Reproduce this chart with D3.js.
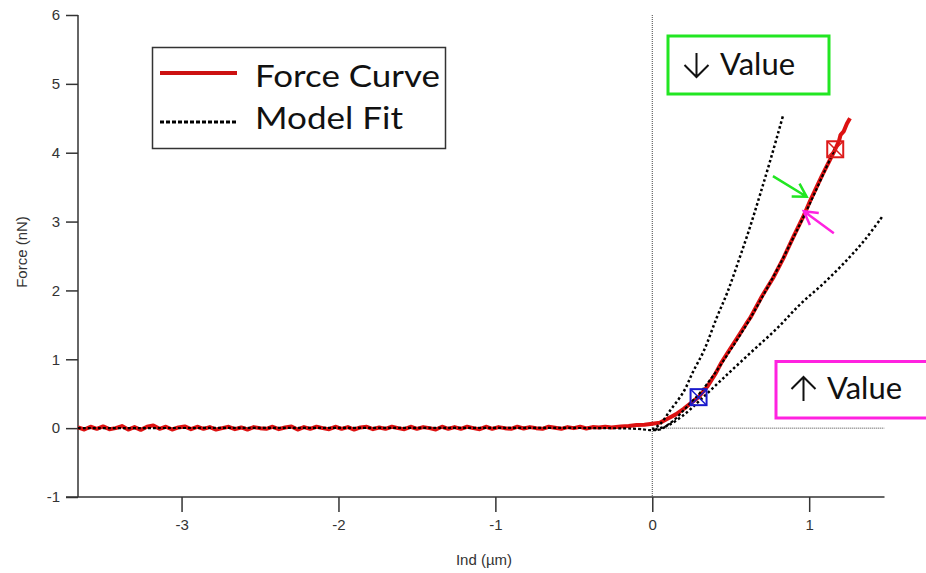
<!DOCTYPE html>
<meta charset="utf-8">
<title>Force Curve</title>
<style>
    body { margin: 0; background: #fff; }
    svg { display: block; }
    .tick text { font-family: 'Liberation Sans', Arial, sans-serif; font-size: 15px; fill: #333; }
    .tick line { stroke: #333; stroke-width: 1.5px; }
    .axis-title { font-family: 'Liberation Sans', Arial, sans-serif; font-size: 15px; fill: #333; }
    .big { font-family: Lato, 'Open Sans', sans-serif; font-size: 31px; fill: #111; }
</style>
<body>
<svg width="926" height="573"></svg>
<script src="https://cdn.jsdelivr.net/npm/d3@7"></script>
<script>

// tick values
var xTicks = [-3, -2, -1, 0, 1];
var yTicks = [-1, 0, 1, 2, 3, 4, 5, 6];

// force curve, flat part: readings every 0.04 um from -3.66 to -0.30
var flatStart = -3.66, flatStep = 0.04;
var flatForce = [
  0.01,-0.02,0.02,-0.01,0.025,-0.015,0.0,0.03,-0.02,0.015,-0.025,0.02,0.04,-0.01,0.02,-0.02,0.01,0.025,-0.015,0.02,
  -0.01,0.015,-0.02,0.0,0.02,-0.015,0.01,-0.02,0.015,0.0,-0.01,0.02,-0.015,0.01,0.025,-0.02,0.015,-0.01,0.02,0.0,
  -0.015,0.02,-0.01,0.015,-0.02,0.01,0.02,-0.015,0.01,-0.01,0.02,0.0,-0.015,0.02,-0.01,0.015,0.0,-0.02,0.02,-0.01,
  0.015,-0.01,0.02,0.0,-0.015,0.02,-0.01,0.015,0.0,-0.01,0.02,-0.005,0.015,0.0,-0.01,0.02,0.005,-0.01,0.015,0.0,
  0.02,-0.005,0.015,0.01,0.02
];

// force curve after contact [ind, force]
var riseCurve = [
  [-0.26,0.01],[-0.2,0.025],[-0.15,0.03],[-0.1,0.045],[-0.05,0.05],[0,0.065],[0.05,0.08],
  [0.1,0.14],[0.15,0.2],[0.2,0.28],[0.25,0.37],[0.295,0.45],[0.35,0.6],[0.4,0.78],
  [0.44,0.95],[0.476,1.08],[0.55,1.34],[0.6,1.52],[0.624,1.6],[0.7,1.92],[0.77,2.18],
  [0.836,2.47],[0.9,2.78],[0.96,3.06],[1.006,3.3],[1.08,3.66],[1.166,4.05],[1.19,4.17],
  [1.2,4.26],[1.22,4.31],[1.24,4.42],[1.26,4.5]
];

// model fits [ind, force]
var fitBest = [
  [-3.66,0],[-0.3,0],[-0.1,-0.01],[0,-0.03],[0.05,-0.02],[0.1,0.05],[0.15,0.14],[0.2,0.26],
  [0.25,0.38],[0.3,0.5],[0.4,0.8],[0.5,1.14],[0.6,1.5],[0.7,1.9],[0.8,2.32],[0.9,2.77],
  [1.0,3.24],[1.1,3.74],[1.166,4.07]
];
var fitStiff = [
  [0,-0.02],[0.05,0.06],[0.115,0.26],[0.2,0.53],[0.26,0.82],[0.33,1.13],[0.41,1.6],
  [0.48,1.98],[0.55,2.43],[0.62,2.9],[0.688,3.4],[0.76,3.95],[0.836,4.56]
];
var fitSoft = [
  [0.02,-0.02],[0.1,0.04],[0.2,0.19],[0.306,0.41],[0.45,0.72],[0.624,1.09],[0.8,1.46],
  [0.943,1.8],[1.1,2.12],[1.248,2.46],[1.36,2.75],[1.465,3.07]
];

// fit range markers [ind, force]
var markers = [
  {x: 0.295, y: 0.45, color: "#1a1acc"},
  {x: 1.166, y: 4.05, color: "#dd1a1a"}
];

// annotation arrows [tail, tip] in data units
var arrows = [
  {from: [0.769, 3.66], to: [0.984, 3.36], color: "#22e622"},
  {from: [1.157, 2.83], to: [0.966, 3.15], color: "#ff22e0"}
];

var svg = d3.select("svg");

var x = d3.scaleLinear().domain([-3.66, 1.48]).range([78, 884.5]);
var y = d3.scaleLinear().domain([-1, 6]).range([497, 15]);

var redCurve = flatForce.map(function(f, i) { return [flatStart + i * flatStep, f]; }).concat(riseCurve);

// axes
var yAxis = svg.append("g")
    .attr("transform", "translate(" + x.range()[0] + ",0)")
    .call(d3.axisLeft(y).tickValues(yTicks).tickSize(12).tickPadding(6).tickSizeOuter(0));
yAxis.select(".domain").remove();

var xAxis = svg.append("g")
    .attr("transform", "translate(0," + y(-1) + ")")
    .call(d3.axisBottom(x).tickValues(xTicks).tickSize(15).tickPadding(7).tickSizeOuter(0));
xAxis.select(".domain").remove();
xAxis.selectAll(".tick text").text(function(d) { return d; });
yAxis.selectAll(".tick text").text(function(d) { return d; });

svg.append("line")
    .attr("x1", x.range()[0]).attr("x2", x.range()[0])
    .attr("y1", y(6)).attr("y2", y(-1))
    .attr("stroke", "#333").attr("stroke-width", 1.5);
svg.append("line")
    .attr("x1", x.range()[0] - 12).attr("x2", x.range()[1])
    .attr("y1", y(-1)).attr("y2", y(-1))
    .attr("stroke", "#333").attr("stroke-width", 1.5);

// zero lines
svg.append("line")
    .attr("x1", x(0)).attr("x2", x(0))
    .attr("y1", y(6)).attr("y2", y(-1))
    .attr("stroke", "#444").attr("stroke-width", 1).attr("stroke-dasharray", "1,1");
svg.append("line")
    .attr("x1", x(0)).attr("x2", x.range()[1])
    .attr("y1", y(0)).attr("y2", y(0))
    .attr("stroke", "#444").attr("stroke-width", 1).attr("stroke-dasharray", "1,1");

svg.append("text").attr("class", "axis-title")
    .attr("transform", "translate(27,252) rotate(-90)")
    .attr("text-anchor", "middle")
    .text("Force (nN)");
svg.append("text").attr("class", "axis-title")
    .attr("x", 484).attr("y", 565)
    .attr("text-anchor", "middle")
    .text("Ind (\u00b5m)");

var line = d3.line()
    .x(function(d) { return x(d[0]); })
    .y(function(d) { return y(d[1]); });
var smooth = d3.line()
    .curve(d3.curveCatmullRom)
    .x(function(d) { return x(d[0]); })
    .y(function(d) { return y(d[1]); });

// data
svg.append("path")
    .datum(redCurve)
    .attr("d", line)
    .attr("fill", "none")
    .attr("stroke", "#dd1111")
    .attr("stroke-width", 4)
    .attr("stroke-linejoin", "round");

svg.append("path")
    .datum(fitBest)
    .attr("d", smooth)
    .attr("fill", "none")
    .attr("stroke", "#000")
    .attr("stroke-width", 2.2)
    .attr("stroke-dasharray", "3,2");

[fitStiff, fitSoft].forEach(function(f) {
  svg.append("path")
      .datum(f)
      .attr("d", smooth)
      .attr("fill", "none")
      .attr("stroke", "#000")
      .attr("stroke-width", 2.5)
      .attr("stroke-dasharray", "2.5,2.5");
});

// markers: square with a cross
var mk = svg.selectAll(".marker")
    .data(markers).enter()
    .append("g")
    .attr("class", "marker")
    .attr("transform", function(d) { return "translate(" + x(d.x) + "," + y(d.y) + ")"; });
mk.append("rect")
    .attr("x", -8).attr("y", -8).attr("width", 16).attr("height", 16)
    .attr("fill", "none")
    .attr("stroke", function(d) { return d.color; })
    .attr("stroke-width", 2);
mk.append("path")
    .attr("d", "M-8,-8L8,8M8,-8L-8,8")
    .attr("stroke", function(d) { return d.color; })
    .attr("stroke-width", 1.5);

// arrows
arrows.forEach(function(a) {
  var x1 = x(a.from[0]), y1 = y(a.from[1]), x2 = x(a.to[0]), y2 = y(a.to[1]);
  var ang = Math.atan2(y1 - y2, x1 - x2), len = 15, spread = Math.PI / 6;
  var head = "M" + (x2 + len * Math.cos(ang + spread)) + "," + (y2 + len * Math.sin(ang + spread)) +
             "L" + x2 + "," + y2 +
             "L" + (x2 + len * Math.cos(ang - spread)) + "," + (y2 + len * Math.sin(ang - spread));
  svg.append("path")
      .attr("d", "M" + x1 + "," + y1 + "L" + x2 + "," + y2 + head)
      .attr("fill", "none")
      .attr("stroke", a.color)
      .attr("stroke-width", 2.5);
});

// legend
var legend = svg.append("g");
legend.append("rect")
    .attr("x", 152.5).attr("y", 47.5).attr("width", 293).attr("height", 101)
    .attr("fill", "#fff").attr("stroke", "#333").attr("stroke-width", 1.5);
legend.append("line")
    .attr("x1", 160).attr("x2", 237).attr("y1", 73).attr("y2", 73)
    .attr("stroke", "#cc1111").attr("stroke-width", 4);
legend.append("line")
    .attr("x1", 160).attr("x2", 236).attr("y1", 122).attr("y2", 122)
    .attr("stroke", "#000").attr("stroke-width", 3).attr("stroke-dasharray", "4,2");
legend.append("text").attr("class", "big").attr("x", 255).attr("y", 87)
    .attr("textLength", 185).attr("lengthAdjust", "spacingAndGlyphs").text("Force Curve");
legend.append("text").attr("class", "big").attr("x", 255).attr("y", 129)
    .attr("textLength", 148).attr("lengthAdjust", "spacingAndGlyphs").text("Model Fit");

// thin arrow glyph drawn as a path, centred at cx, pointing dir (+1 down, -1 up)
function arrowGlyph(cx, top, bottom, dir) {
  var tip = dir > 0 ? bottom : top, base = dir > 0 ? top : bottom;
  return "M" + cx + "," + base + "L" + cx + "," + tip +
         "M" + (cx - 12) + "," + (tip - dir * 12) + "L" + cx + "," + tip + "L" + (cx + 12) + "," + (tip - dir * 12);
}

// value boxes
svg.append("rect")
    .attr("x", 668).attr("y", 36).attr("width", 161).attr("height", 58)
    .attr("fill", "#fff").attr("stroke", "#22e622").attr("stroke-width", 3);
svg.append("path").attr("d", arrowGlyph(696.5, 53, 77, 1))
    .attr("fill", "none").attr("stroke", "#111").attr("stroke-width", 2);
svg.append("text").attr("class", "big").attr("x", 720).attr("y", 75)
    .attr("textLength", 75).attr("lengthAdjust", "spacingAndGlyphs").text("Value");

svg.append("rect")
    .attr("x", 776).attr("y", 361.5).attr("width", 160).attr("height", 56.5)
    .attr("fill", "#fff").attr("stroke", "#ff22e0").attr("stroke-width", 3);
svg.append("path").attr("d", arrowGlyph(803.5, 377, 401, -1))
    .attr("fill", "none").attr("stroke", "#111").attr("stroke-width", 2);
svg.append("text").attr("class", "big").attr("x", 827).attr("y", 399)
    .attr("textLength", 75).attr("lengthAdjust", "spacingAndGlyphs").text("Value");

</script>
</body>
